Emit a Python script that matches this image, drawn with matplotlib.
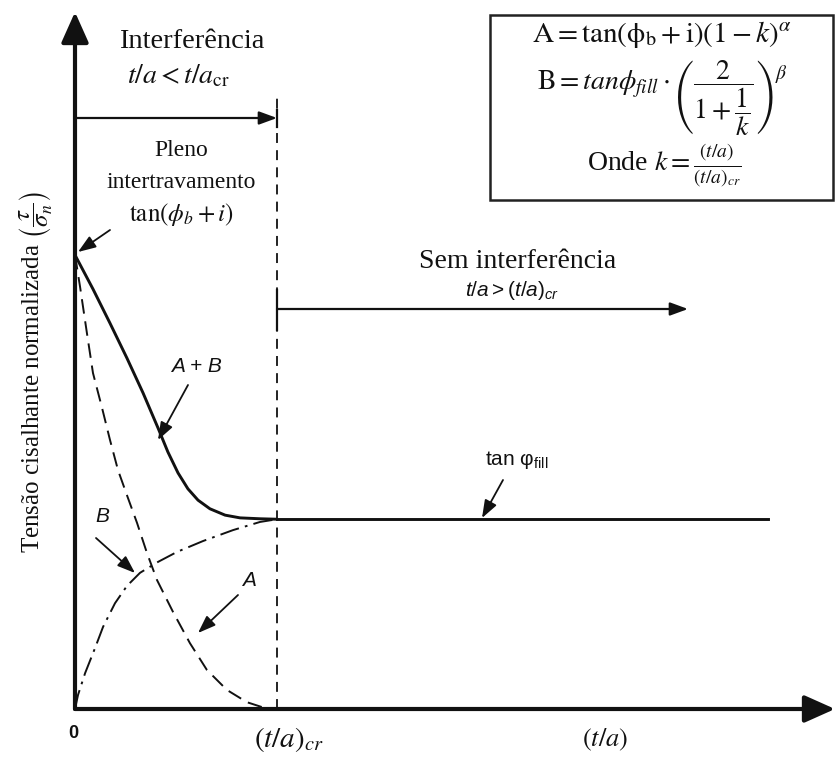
import matplotlib
matplotlib.use("Agg")
import matplotlib.pyplot as plt
from matplotlib.patches import Rectangle

# sans-serif math (Arial-like) for the figure annotations; serif text uses stix
plt.rcParams['mathtext.fontset'] = 'custom'
plt.rcParams['mathtext.rm'] = 'Liberation Sans'
plt.rcParams['mathtext.it'] = 'Liberation Sans:italic'
plt.rcParams['mathtext.bf'] = 'Liberation Sans:bold'

# k = (t/a)/(t/a)_cr on x, normalized shear stress tau/sigma_n on y
k_sum = [0, 0.089, 0.173, 0.257, 0.337, 0.411, 0.460, 0.510, 0.559, 0.609,
         0.668, 0.743, 0.817, 0.916, 1.0]
y_sum = [1.0, 0.925, 0.850, 0.773, 0.696, 0.619, 0.566, 0.520, 0.485, 0.460,
         0.441, 0.427, 0.421, 0.419, 0.418]

k_a = [0, 0.025, 0.059, 0.089, 0.134, 0.173, 0.213, 0.262, 0.307, 0.356,
       0.406, 0.485, 0.569, 0.653, 0.752, 0.851, 0.941, 1.0]
y_a = [1.0, 0.930, 0.828, 0.740, 0.663, 0.593, 0.526, 0.465, 0.410, 0.344,
       0.284, 0.214, 0.145, 0.086, 0.042, 0.015, 0.002, 0.0]

k_b = [0, 0.015, 0.050, 0.099, 0.139, 0.198, 0.257, 0.322, 0.411, 0.505,
       0.634, 0.782, 0.916, 1.0]
y_b = [0, 0.031, 0.079, 0.134, 0.181, 0.233, 0.271, 0.300, 0.324, 0.346,
       0.370, 0.394, 0.412, 0.418]

k_cr = 1.0
tan_fill = 0.418
k_fill_end = 3.43

W, H = 835, 760
X0, Y0 = 75, 709          # origin in pixels
SX, SY = 202, 454         # pixels per unit

fig = plt.figure(figsize=(W / 100, H / 100), dpi=100)
ax = fig.add_axes([X0 / W, (H - Y0) / H, (W - X0) / W, (Y0 - 12) / H])
XMAX = (W - X0) / SX
YMAX = (Y0 - 12) / SY
ax.set_xlim(0, XMAX)
ax.set_ylim(0, YMAX)
ax.axis('off')


def px(x, y):
    """pixel position -> data coordinates"""
    return ((x - X0) / SX, (Y0 - y) / SY)


def arrow(tail, tip, lw=1.3, ms=18, hl=0.6, hw=0.22):
    ax.annotate('', xy=tip, xytext=tail, annotation_clip=False,
                arrowprops=dict(arrowstyle=f'-|>,head_length={hl},head_width={hw}',
                                lw=lw, color='#111111', mutation_scale=ms,
                                shrinkA=0, shrinkB=0))


SERIF = 'Liberation Serif'
SANS = 'Liberation Sans'
INK = '#111111'

# axes with arrow heads
arrow((0, 0), (XMAX, 0), lw=3, ms=22, hl=0.85, hw=0.38)
arrow((0, 0), (0, YMAX), lw=3, ms=22, hl=0.85, hw=0.38)

# curves
ax.plot(k_sum, y_sum, color=INK, lw=2.1, solid_capstyle='round',
        solid_joinstyle='round')
ax.plot([k_cr, k_fill_end], [tan_fill, tan_fill], color=INK, lw=2.1)
ax.plot(k_a, y_a, color=INK, lw=1.4, linestyle=(0, (7.5, 4.0)))
ax.plot(k_b, y_b, color=INK, lw=1.4, linestyle=(0, (10, 3.2, 1.4, 3.2)))

# critical ratio line
ax.plot([k_cr, k_cr], [0, px(0, 95)[1]], color=INK, lw=1.3, linestyle=(0, (5.5, 4.0)))

# region arrows
arrow((0, px(0, 118)[1]), (k_cr, px(0, 118)[1]), lw=1.6)
ax.plot([k_cr, k_cr], [px(0, 110)[1], px(0, 127)[1]], color=INK, lw=1.6)
arrow((k_cr, px(0, 309)[1]), px(688, 309), lw=1.6)
ax.plot([k_cr, k_cr], [px(0, 290)[1], px(0, 330)[1]], color=INK, lw=1.6)

# texts, top-left region
ax.text(*px(192, 42), 'Interferência', family=SERIF, fontsize=20.5,
        ha='center', va='center', color=INK)
ax.text(*px(178, 76), r'$t/a < t/a_{\mathrm{cr}}$', family=SERIF, fontsize=20,
        ha='center', va='center', color=INK, math_fontfamily='stix')
ax.text(*px(181, 150), 'Pleno', family=SERIF, fontsize=17,
        ha='center', va='center', color=INK)
ax.text(*px(181, 183), 'intertravamento', family=SERIF, fontsize=17,
        ha='center', va='center', color=INK)
ax.text(*px(181, 214), r'$\mathrm{tan}(\phi_b + i)$', fontsize=18,
        ha='center', va='center', color=INK, math_fontfamily='stix')
arrow(px(110, 230), px(78, 252))

# texts, right region
ax.text(*px(518, 262), 'Sem interferência', family=SERIF, fontsize=20,
        ha='center', va='center', color=INK)
ax.text(*px(512, 290), r'$t/a > (t/a)_{cr}$', fontsize=15,
        ha='center', va='center', color=INK)

# curve labels
ax.text(*px(196, 366), 'A + B', family=SANS, style='italic', fontsize=15,
        ha='center', va='center', color=INK)
arrow(px(188, 385), px(158, 440))
ax.text(*px(102, 517), 'B', family=SANS, style='italic', fontsize=15,
        ha='center', va='center', color=INK)
arrow(px(96, 538), px(135, 573))
ax.text(*px(249, 580), 'A', family=SANS, style='italic', fontsize=15,
        ha='center', va='center', color=INK)
arrow(px(238, 595), px(198, 633))
ax.text(*px(517, 460), r'tan $\mathrm{φ}_{\mathrm{fill}}$', family=SANS, fontsize=15,
        ha='center', va='center', color=INK)
arrow(px(503, 480), px(482, 518))

# axis labels
ax.text(*px(73, 733), '0', family=SANS, weight='bold', fontsize=13,
        ha='center', va='center', color=INK)
ax.text(*px(289, 740), r'$(t/a)_{cr}$', fontsize=21, ha='center', va='center',
        color=INK, math_fontfamily='stix')
ax.text(*px(605, 740), r'$(t/a)$', fontsize=19, ha='center', va='center',
        color=INK, math_fontfamily='stix')
ax.text(*px(36, 372),
        r'Tensão cisalhante normalizada $\left(\dfrac{\tau}{\sigma_n}\right)$',
        family=SERIF, fontsize=18, rotation=90, ha='center', va='center',
        color=INK, math_fontfamily='stix')

# equation box
fig.patches.append(Rectangle((490 / W, 1 - 200 / H), 343 / W, 185 / H,
                             transform=fig.transFigure, fill=False,
                             edgecolor='#222222', lw=1.8))
ax.text(*px(662, 34), r'$\mathrm{A = tan(ϕ_b + i)}(1 - k)^{\alpha}$', fontsize=21,
        ha='center', va='center', color=INK, math_fontfamily='stix')
ax.text(*px(662, 98),
        r'$\mathrm{B} = tan\phi_{fill}\cdot\left(\dfrac{2}{1 + \dfrac{1}{k}}\right)^{\beta}$',
        fontsize=20, ha='center', va='center', color=INK, math_fontfamily='stix')
ax.text(*px(664, 165), r'Onde $k = \frac{(t/a)}{(t/a)_{cr}}$', family=SERIF,
        fontsize=20, ha='center', va='center', color=INK, math_fontfamily='stix')

fig.savefig('out.png', dpi=100, facecolor='white')
